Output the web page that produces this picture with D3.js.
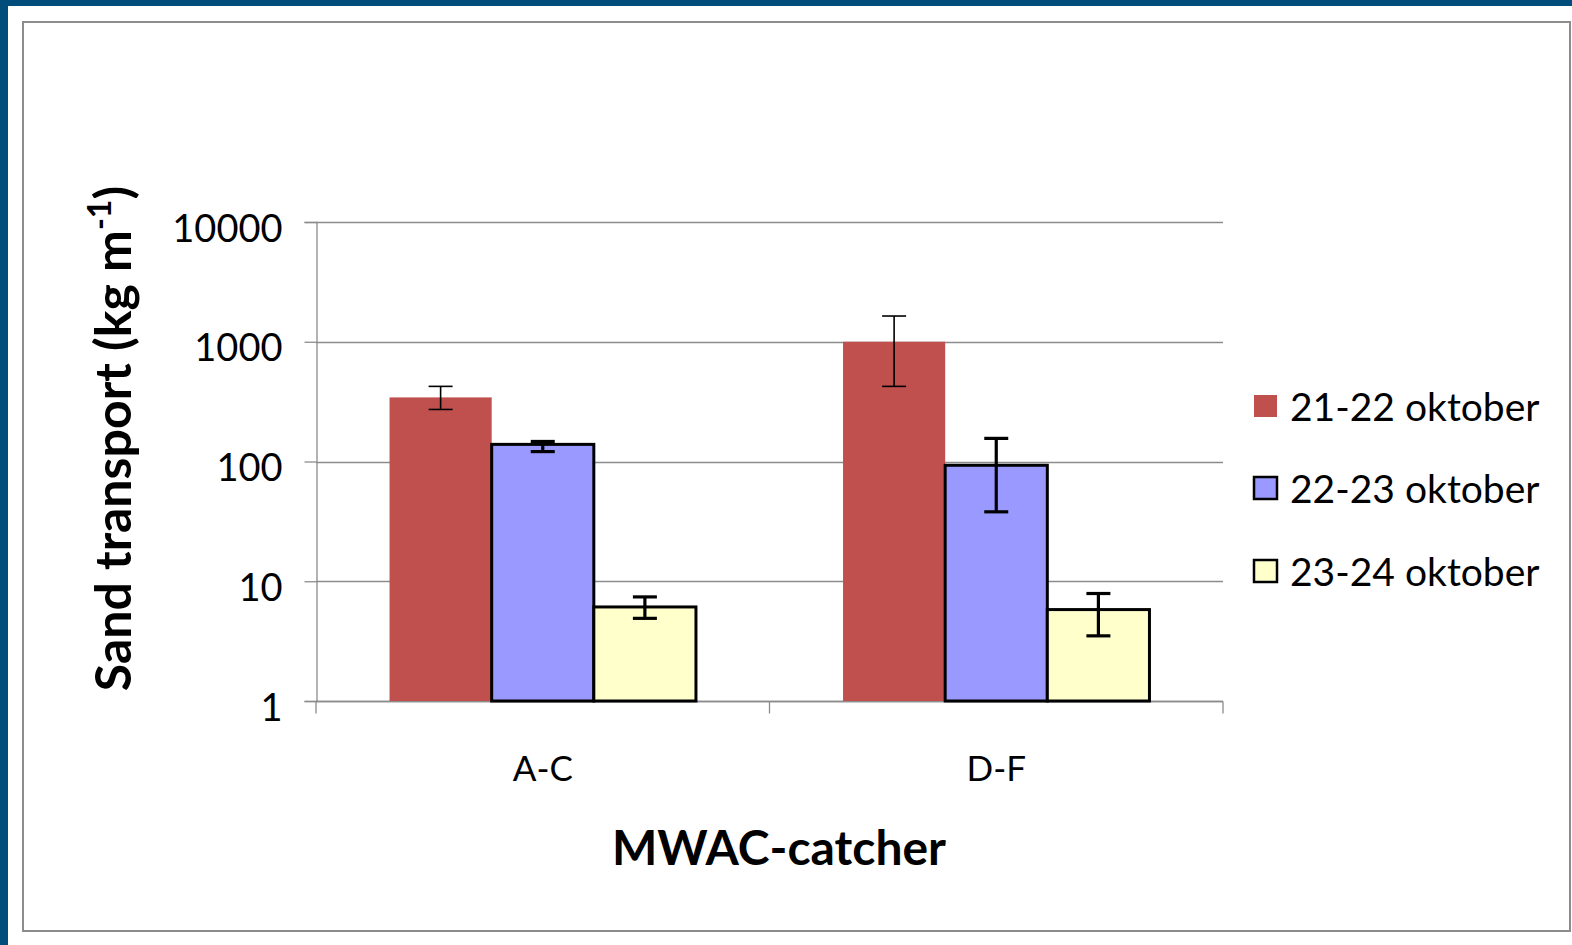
<!DOCTYPE html>
<html>
<head>
<meta charset="utf-8">
<script src="https://cdn.jsdelivr.net/npm/d3@7"></script>
<style>
  html, body { margin: 0; padding: 0; background: #fff; }
  svg { display: block; font-family: Lato, "Open Sans", sans-serif; }
</style>
</head>
<body>
<svg id="chart" width="1572" height="945"></svg>
<script>
// Data
const categories = ["A-C", "D-F"];
const seriesNames = ["21-22 oktober", "22-23 oktober", "23-24 oktober"];
const seriesColors = ["#c0504d", "#9999ff", "#ffffcc"];
const seriesStroke = [null, "#000", "#000"];
const series1 = [343, 1000];
const series2 = [139, 93];
const series3 = [6.1, 5.8];
const series1Low = [272, 424];
const series1High = [424, 1640];
const series2Low = [121, 38];
const series2High = [147, 156];
const series3Low = [4.9, 3.5];
const series3High = [7.4, 7.9];
const yTicks = [1, 10, 100, 1000, 10000];

const values = [series1, series2, series3];
const lows = [series1Low, series2Low, series3Low];
const highs = [series1High, series2High, series3High];

const svg = d3.select("#chart");

// outer frame
svg.append("rect").attr("x", 0).attr("y", 0).attr("width", 1572).attr("height", 945).attr("fill", "#004c7b");
svg.append("rect").attr("x", 8).attr("y", 6).attr("width", 1564).attr("height", 939).attr("fill", "#fff");
svg.append("rect").attr("x", 23).attr("y", 22).attr("width", 1547).attr("height", 909)
  .attr("fill", "none").attr("stroke", "#8c8c8c").attr("stroke-width", 2);

const plot = { left: 316, right: 1223, top: 222, bottom: 701 };

const x = d3.scaleBand().domain(categories).range([plot.left, plot.right]).paddingInner(0).paddingOuter(0);
const y = d3.scaleLog().domain([1, 10000]).range([plot.bottom, plot.top]);
const inner = d3.scaleBand().domain(d3.range(seriesNames.length)).range([0, x.bandwidth()]).paddingOuter(0.72).paddingInner(0);

// gridlines
svg.append("g").selectAll("line").data(yTicks).join("line")
  .attr("x1", plot.left).attr("x2", plot.right)
  .attr("y1", d => Math.round(y(d)) + 0.5).attr("y2", d => Math.round(y(d)) + 0.5)
  .attr("stroke", "#8c8c8c").attr("stroke-width", 1.3);

// y axis
const yAxis = svg.append("g").attr("transform", `translate(${plot.left + 0.5},0)`)
  .call(d3.axisLeft(y).tickValues(yTicks).tickFormat(d3.format("d")).tickSize(12).tickPadding(22));
yAxis.select(".domain").attr("stroke", "#8c8c8c").attr("stroke-width", 1.3);
yAxis.selectAll(".tick line").attr("stroke", "#8c8c8c").attr("stroke-width", 1.3);
yAxis.selectAll("text").attr("font-size", 38).attr("fill", "#000").attr("font-family", "Lato").attr("dy", "0.5em");

// x axis
const xAxis = svg.append("g").attr("transform", `translate(0,${plot.bottom + 0.5})`);
xAxis.append("line").attr("x1", plot.left).attr("x2", plot.right).attr("stroke", "#8c8c8c").attr("stroke-width", 1.3);
const xTickPos = [plot.left, ...categories.slice(1).map(c => x(c)), plot.right];
xAxis.selectAll("line.tk").data(xTickPos).join("line").attr("class", "tk")
  .attr("x1", d => d).attr("x2", d => d).attr("y1", 0).attr("y2", 12)
  .attr("stroke", "#8c8c8c").attr("stroke-width", 1.3);
xAxis.selectAll("text").data(categories).join("text")
  .attr("x", d => x(d) + x.bandwidth() / 2).attr("y", 79)
  .attr("text-anchor", "middle").attr("font-size", 35).text(d => d);

// bars
seriesNames.forEach((name, si) => {
  const g = svg.append("g");
  g.selectAll("rect").data(categories).join("rect")
    .attr("x", c => x(c) + inner(si))
    .attr("y", (c, i) => y(values[si][i]))
    .attr("width", inner.bandwidth())
    .attr("height", (c, i) => plot.bottom - y(values[si][i]))
    .attr("fill", seriesColors[si])
    .attr("stroke", seriesStroke[si] || "none")
    .attr("stroke-width", 3);
});

// error bars
seriesNames.forEach((name, si) => {
  const g = svg.append("g").attr("stroke", "#000").attr("stroke-width", si === 0 ? 1.6 : 3.2);
  categories.forEach((c, i) => {
    const cx = x(c) + inner(si) + inner.bandwidth() / 2;
    const y0 = y(lows[si][i]), y1 = y(highs[si][i]);
    g.append("line").attr("x1", cx).attr("x2", cx).attr("y1", y0).attr("y2", y1);
    g.append("line").attr("x1", cx - 12).attr("x2", cx + 12).attr("y1", y0).attr("y2", y0);
    g.append("line").attr("x1", cx - 12).attr("x2", cx + 12).attr("y1", y1).attr("y2", y1);
  });
});

// axis titles
const yt = svg.append("text")
  .attr("transform", `translate(131,${(180 + 697) / 2}) rotate(-90)`)
  .attr("text-anchor", "middle").attr("font-size", 50).attr("font-weight", "bold");
yt.append("tspan").text("Sand transport (kg m");
yt.append("tspan").attr("font-size", 32).attr("dy", -20).text("-1");
yt.append("tspan").attr("dy", 20).text(")");

svg.append("text").attr("x", 779).attr("y", 865).attr("text-anchor", "middle")
  .attr("font-size", 48).attr("font-weight", "bold").text("MWAC-catcher");

// legend
const legend = svg.append("g").attr("transform", "translate(1254,0)");
const legY = [406, 488, 571];
seriesNames.forEach((name, si) => {
  legend.append("rect").attr("x", 0).attr("y", legY[si] - 11).attr("width", 23).attr("height", 22)
    .attr("fill", seriesColors[si]).attr("stroke", seriesStroke[si] || "none").attr("stroke-width", 2.5);
  legend.append("text").attr("x", 36).attr("y", legY[si]).attr("dy", "0.38em")
    .attr("font-size", 39).text(name);
});
</script>
</body>
</html>
